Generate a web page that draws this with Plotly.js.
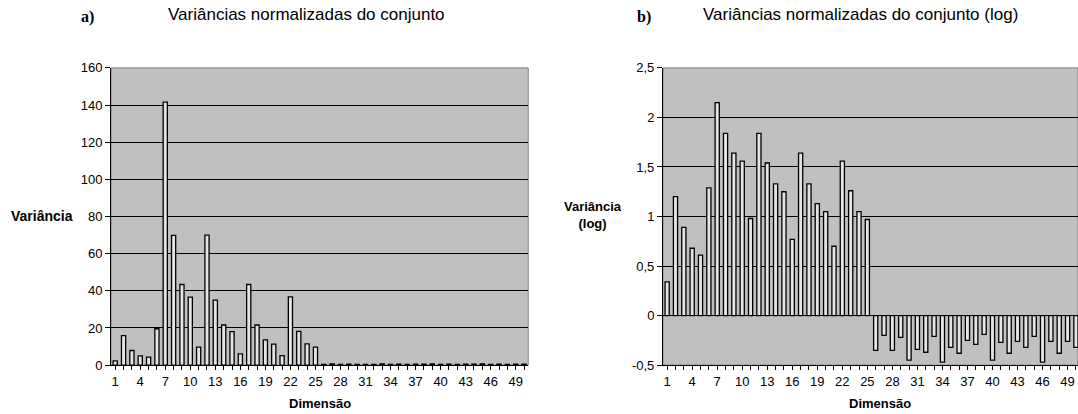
<!DOCTYPE html>
<html>
<head>
<meta charset="utf-8">
<script src="https://cdn.plot.ly/plotly-3.0.1.min.js"></script>
<style>
  html, body { margin: 0; padding: 0; background: #fff; }
  #chart { width: 1078px; height: 414px; }
</style>
</head>
<body>
<div id="chart"></div>
<script>
// Dimensões (categorias do eixo x)
const dimensoes = [1, 2, 3, 4, 5, 6, 7, 8, 9, 10, 11, 12, 13, 14, 15, 16, 17, 18, 19, 20,
  21, 22, 23, 24, 25, 26, 27, 28, 29, 30, 31, 32, 33, 34, 35, 36, 37, 38, 39, 40,
  41, 42, 43, 44, 45, 46, 47, 48, 49, 50];

// Variâncias normalizadas por dimensão
const variancia = [2.3, 15.9, 7.9, 5.0, 4.3, 19.6, 141.6, 69.9, 43.4, 36.6,
  9.7, 70.0, 35.0, 21.6, 18.1, 6.1, 43.4, 21.6, 13.6, 11.3,
  5.1, 36.7, 18.2, 11.4, 9.7, 0.45, 0.63, 0.45, 0.6, 0.35,
  0.46, 0.43, 0.62, 0.34, 0.48, 0.42, 0.56, 0.51, 0.65, 0.35,
  0.54, 0.42, 0.55, 0.48, 0.62, 0.34, 0.55, 0.42, 0.55, 0.48];

// Variâncias normalizadas em escala log10
const varianciaLog = [0.34, 1.20, 0.89, 0.68, 0.61, 1.29, 2.15, 1.84, 1.64, 1.56,
  0.98, 1.84, 1.54, 1.33, 1.25, 0.77, 1.64, 1.33, 1.13, 1.05,
  0.70, 1.56, 1.26, 1.05, 0.97, -0.35, -0.20, -0.35, -0.22, -0.45,
  -0.34, -0.37, -0.21, -0.47, -0.32, -0.38, -0.25, -0.29, -0.19, -0.45,
  -0.27, -0.38, -0.26, -0.32, -0.21, -0.47, -0.26, -0.38, -0.26, -0.32];

// Rótulos do eixo x: um a cada três dimensões
const rotulosX = ['1', '', '', '4', '', '', '7', '', '', '10', '', '', '13', '', '', '16', '', '', '19', '',
  '', '22', '', '', '25', '', '', '28', '', '', '31', '', '', '34', '', '', '37', '', '', '40',
  '', '', '43', '', '', '46', '', '', '49', ''];

// Eixo y dos gráficos
const ticksY1 = [0, 20, 40, 60, 80, 100, 120, 140, 160];
const ticksY2 = [-0.5, 0, 0.5, 1, 1.5, 2, 2.5];
const rotulosY2 = ['-0,5', '0', '0,5', '1', '1,5', '2', '2,5'];

const fonte = 'Liberation Sans, Arial, sans-serif';
const fonteSerif = 'Liberation Serif, Times New Roman, serif';

const barra = {
  type: 'bar',
  x: dimensoes,
  width: 0.5,
  marker: { color: '#e4e4e4', line: { color: '#000000', width: 1.3 } },
  hoverinfo: 'x+y'
};

const traces = [
  Object.assign({}, barra, { y: variancia, xaxis: 'x', yaxis: 'y' }),
  Object.assign({}, barra, { y: varianciaLog, xaxis: 'x2', yaxis: 'y2' })
];

const eixoX = {
  range: [0.5, 50.5],
  tickmode: 'array',
  tickvals: dimensoes,
  ticktext: rotulosX,
  ticks: 'outside',
  ticklen: 4,
  tickcolor: '#000',
  showgrid: false,
  zeroline: false,
  showline: true,
  linecolor: '#000',
  linewidth: 1,
  tickfont: { family: fonte, size: 13, color: '#000' }
};

const eixoY = {
  ticks: 'outside',
  ticklen: 5,
  tickcolor: '#000',
  showgrid: true,
  gridcolor: '#000',
  gridwidth: 1,
  showline: true,
  linecolor: '#000',
  linewidth: 1,
  tickfont: { family: fonte, size: 13, color: '#000' }
};

// Textos posicionados no papel, centralizados no ponto dado
function texto(t, x, y, familia, tamanho) {
  return {
    text: t, xref: 'paper', yref: 'paper', x: x, y: y,
    xanchor: 'center', yanchor: 'middle', align: 'center', showarrow: false,
    font: { family: familia, size: tamanho, color: '#000' }
  };
}

const layout = {
  width: 1078,
  height: 414,
  margin: { l: 0, r: 0, t: 0, b: 0 },
  paper_bgcolor: '#ffffff',
  plot_bgcolor: '#c0c0c0',
  showlegend: false,
  xaxis: Object.assign({}, eixoX, { domain: [0.103, 0.49], anchor: 'y' }),
  yaxis: Object.assign({}, eixoY, {
    domain: [0.118, 0.836], anchor: 'x', range: [0, 160],
    tickmode: 'array', tickvals: ticksY1, zeroline: false
  }),
  xaxis2: Object.assign({}, eixoX, { domain: [0.615, 1.0], anchor: 'y2', range: [0.5, 50.25] }),
  yaxis2: Object.assign({}, eixoY, {
    domain: [0.118, 0.836], anchor: 'x2', range: [-0.5, 2.5],
    tickmode: 'array', tickvals: ticksY2, ticktext: rotulosY2,
    zeroline: true, zerolinecolor: '#000', zerolinewidth: 1
  }),
  shapes: [
    { type: 'rect', xref: 'x domain', yref: 'y domain', x0: 0, x1: 1, y0: 0, y1: 1,
      line: { color: '#808080', width: 1 }, layer: 'below' },
    { type: 'rect', xref: 'x2 domain', yref: 'y2 domain', x0: 0, x1: 1, y0: 0, y1: 1,
      line: { color: '#808080', width: 1 }, layer: 'below' }
  ],
  annotations: [
    texto('<b>a)</b>', 0.0816, 0.958, fonteSerif, 16),
    texto('Variâncias normalizadas do conjunto', 0.2839, 0.9638, fonte, 17),
    texto('<b>b)</b>', 0.5974, 0.958, fonteSerif, 16),
    texto('Variâncias normalizadas do conjunto (log)', 0.7978, 0.9638, fonte, 17),
    texto('<b>Variância</b>', 0.039, 0.478, fonte, 14),
    texto('<b>Variância</b><br><b>(log)</b>', 0.550, 0.481, fonte, 13),
    texto('<b>Dimensão</b>', 0.2968, 0.0242, fonte, 13),
    texto('<b>Dimensão</b>', 0.8163, 0.0242, fonte, 13)
  ]
};

Plotly.newPlot('chart', traces, layout, { displayModeBar: false, staticPlot: true });
</script>
</body>
</html>
